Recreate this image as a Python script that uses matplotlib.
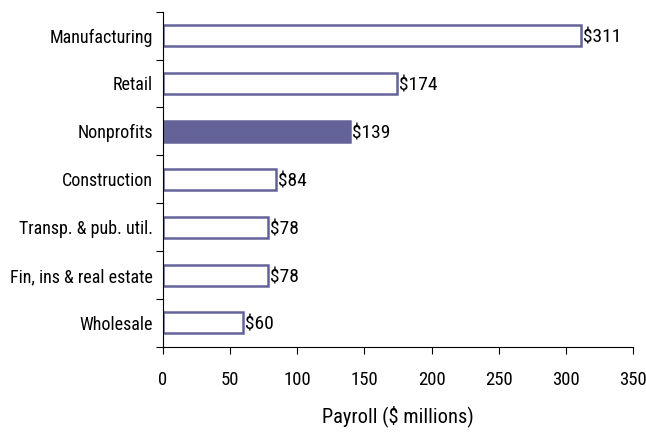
import numpy as np
import matplotlib.pyplot as plt
from matplotlib import font_manager

categories = ['Manufacturing', 'Retail', 'Nonprofits', 'Construction',
              'Transp. & pub. util.', 'Fin, ins & real estate', 'Wholesale']
payroll = [311, 174, 139, 84, 78, 78, 60]
highlight = 'Nonprofits'

names = {f.name for f in font_manager.fontManager.ttflist}
fam = ['Liberation Sans Narrow', 'Roboto Condensed', 'Liberation Sans', 'DejaVu Sans']
plt.rcParams['font.family'] = [f for f in fam if f in names] or ['DejaVu Sans']

purple = '#636399'

fig = plt.figure(figsize=(6.46, 4.32), dpi=100)
ax = fig.add_axes([0.252, 0.197, 0.728, 0.776])

y = np.arange(len(categories))[::-1]
for yi, cat, val in zip(y, categories, payroll):
    face = purple if cat == highlight else 'white'
    ax.barh(yi, val, height=0.44, color=face, edgecolor=purple, linewidth=1.8)
    ax.text(val + 1.5, yi, f'${val}', va='center_baseline', ha='left', fontsize=14)

ax.set_xlim(0, 350)
ax.set_ylim(-0.5, len(categories) - 0.5)
ax.set_xticks(np.arange(0, 351, 50))
ax.tick_params(axis='x', labelsize=13.5, length=5, pad=12)
ax.set_yticks(np.arange(-0.5, len(categories), 1.0))
ax.set_yticklabels([])
ax.tick_params(axis='y', which='major', length=5)
ax.set_yticks(y, minor=True)
ax.set_yticklabels(categories, minor=True)
ax.tick_params(axis='y', which='minor', length=0, labelsize=13, pad=7)
ax.set_xlabel('Payroll ($ millions)', fontsize=14.7, labelpad=12)

for s in ['top', 'right']:
    ax.spines[s].set_visible(False)

fig.savefig('out.png', dpi=100)
